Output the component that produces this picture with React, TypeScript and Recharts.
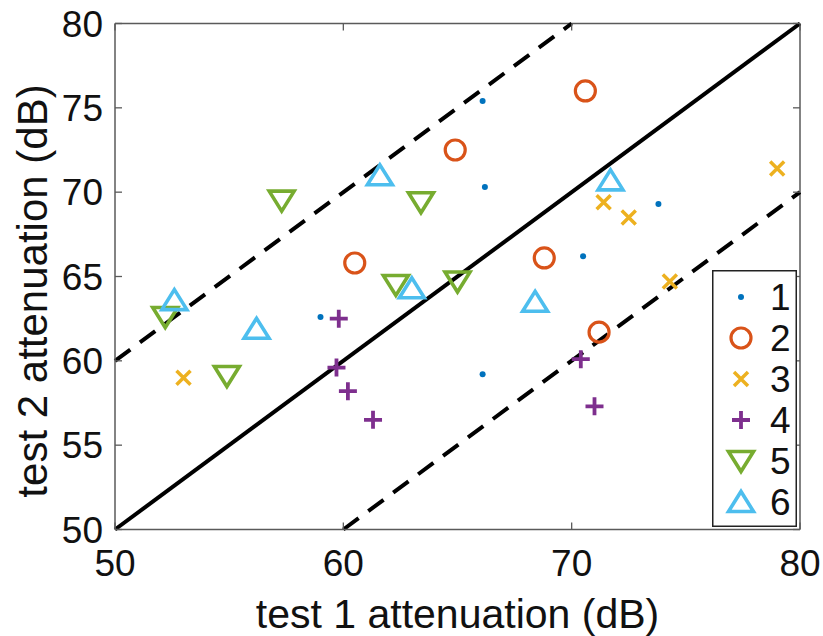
import React from 'react';
import { ScatterChart, Scatter, XAxis, YAxis, ReferenceLine, Legend, Label } from 'recharts';

// tick values
const xTicks = [50, 60, 70, 80];
const yTicks = [50, 55, 60, 65, 70, 75, 80];

// per-subject points (test 1 dB, test 2 dB)
const subject1 = [
  { x: 66.1, y: 75.4 }, { x: 66.2, y: 70.3 }, { x: 73.8, y: 69.3 },
  { x: 70.5, y: 66.2 }, { x: 66.1, y: 59.2 }, { x: 59.0, y: 62.6 },
];
const subject2 = [
  { x: 70.6, y: 76.0 }, { x: 64.9, y: 72.5 }, { x: 60.5, y: 65.8 },
  { x: 68.8, y: 66.1 }, { x: 71.2, y: 61.7 },
];
const subject3 = [
  { x: 79.0, y: 71.4 }, { x: 71.4, y: 69.4 }, { x: 72.5, y: 68.5 },
  { x: 74.3, y: 64.7 }, { x: 53.0, y: 59.0 },
];
const subject4 = [
  { x: 59.8, y: 62.5 }, { x: 59.7, y: 59.6 }, { x: 60.2, y: 58.2 },
  { x: 61.3, y: 56.5 }, { x: 70.4, y: 60.1 }, { x: 71.0, y: 57.3 },
];
const subject5 = [
  { x: 57.3, y: 69.5 }, { x: 63.4, y: 69.4 }, { x: 52.2, y: 62.6 },
  { x: 54.9, y: 59.1 }, { x: 62.3, y: 64.5 }, { x: 65.0, y: 64.7 },
];
const subject6 = [
  { x: 61.6, y: 71.0 }, { x: 71.7, y: 70.7 }, { x: 52.6, y: 63.6 },
  { x: 56.2, y: 61.9 }, { x: 63.0, y: 64.3 }, { x: 68.4, y: 63.5 },
];

// identity line and +/-10 dB bounds
const identityLine = [{ x: 50, y: 50 }, { x: 80, y: 80 }];
const upperBound = [{ x: 50, y: 60 }, { x: 70, y: 80 }];
const lowerBound = [{ x: 60, y: 50 }, { x: 80, y: 70 }];

const FONT = '"Liberation Sans", Arial, Helvetica, sans-serif';
const FRAME = '#5a5a5a';
const PT = 23.5;
const PB = 529.5;
const PL = 115;
const PR = 800;

const C1 = '#0072BD';
const C2 = '#D95319';
const C3 = '#EDB120';
const C4 = '#7E2F8E';
const C5 = '#77AC30';
const C6 = '#4DBEEE';

const DotMark = ({ cx, cy }: any) => <circle cx={cx} cy={cy} r={3} fill={C1} />;
const CircleMark = ({ cx, cy }: any) => (
  <circle cx={cx} cy={cy} r={10} fill="none" stroke={C2} strokeWidth={3.2} />
);
const XMark = ({ cx, cy }: any) => (
  <path d={`M${cx - 7} ${cy - 7}L${cx + 7} ${cy + 7}M${cx - 7} ${cy + 7}L${cx + 7} ${cy - 7}`} stroke={C3} strokeWidth={3.5} />
);
const PlusMark = ({ cx, cy }: any) => (
  <path d={`M${cx - 9} ${cy}L${cx + 9} ${cy}M${cx} ${cy - 9}L${cx} ${cy + 9}`} stroke={C4} strokeWidth={3.8} />
);
const DownMark = ({ cx, cy }: any) => (
  <path d={`M${cx - 12.5} ${cy - 9.5}L${cx + 12.5} ${cy - 9.5}L${cx} ${cy + 10.5}Z`} fill="none" stroke={C5} strokeWidth={3.6} strokeLinejoin="miter" />
);
const UpMark = ({ cx, cy }: any) => (
  <path d={`M${cx - 12.5} ${cy + 9.5}L${cx + 12.5} ${cy + 9.5}L${cx} ${cy - 10.5}Z`} fill="none" stroke={C6} strokeWidth={3.6} strokeLinejoin="miter" />
);

const series = [
  { name: '1', data: subject1, Shape: DotMark },
  { name: '2', data: subject2, Shape: CircleMark },
  { name: '3', data: subject3, Shape: XMark },
  { name: '4', data: subject4, Shape: PlusMark },
  { name: '5', data: subject5, Shape: DownMark },
  { name: '6', data: subject6, Shape: UpMark },
];

const XTick = ({ x, payload }: any) => (
  <g>
    <line x1={x} x2={x} y1={PB} y2={PB - 7} stroke={FRAME} strokeWidth={1.3} />
    <line x1={x} x2={x} y1={PT} y2={PT + 7} stroke={FRAME} strokeWidth={1.3} />
    <text x={x} y={576} textAnchor="middle" fontFamily={FONT} fontSize={37} fill="#111">
      {payload.value}
    </text>
  </g>
);

const YTick = ({ y, payload }: any) => (
  <g>
    <line x1={PL} x2={PL + 7} y1={y} y2={y} stroke={FRAME} strokeWidth={1.3} />
    <line x1={PR} x2={PR - 7} y1={y} y2={y} stroke={FRAME} strokeWidth={1.3} />
    <text x={103} y={y + 13} textAnchor="end" fontFamily={FONT} fontSize={37} fill="#111">
      {payload.value}
    </text>
  </g>
);

const renderLegend = () => (
  <svg width={85} height={257} style={{ display: 'block' }}>
    <rect x={0.75} y={0.75} width={83.5} height={255.5} fill="#fff" stroke="#222" strokeWidth={1.5} />
    {series.map((s, i) => {
      const cy = 27 + i * 41;
      const Shape = s.Shape;
      return (
        <g key={s.name}>
          <Shape cx={29} cy={cy} />
          <text x={58} y={cy + 13} fontFamily={FONT} fontSize={37} fill="#111">
            {s.name}
          </text>
        </g>
      );
    })}
  </svg>
);

export default function App() {
  return (
    <div style={{ position: 'absolute', left: 0, top: 0, background: '#fff' }}>
      <ScatterChart width={823} height={636} margin={{ top: PT, right: 823 - PR, bottom: 0, left: 0 }}>
        <XAxis
          type="number"
          dataKey="x"
          domain={[50, 80]}
          ticks={xTicks}
          allowDataOverflow
          height={636 - PB}
          tickLine={false}
          axisLine={{ stroke: FRAME, strokeWidth: 1.5 }}
          tick={<XTick />}
          interval={0}
        >
          <Label
            value="test 1 attenuation (dB)"
            position="insideBottom"
            offset={8}
            style={{ fontFamily: FONT, fontSize: 41, fill: '#111' }}
          />
        </XAxis>
        <YAxis
          type="number"
          dataKey="y"
          domain={[50, 80]}
          ticks={yTicks}
          allowDataOverflow
          width={PL}
          tickLine={false}
          axisLine={{ stroke: FRAME, strokeWidth: 1.5 }}
          tick={<YTick />}
          interval={0}
        />
        <ReferenceLine y={80} stroke={FRAME} strokeWidth={1.5} />
        <ReferenceLine x={80} stroke={FRAME} strokeWidth={1.5} />
        <ReferenceLine segment={identityLine} stroke="#000" strokeWidth={4} />
        <ReferenceLine segment={upperBound} stroke="#000" strokeWidth={4} strokeDasharray="19 12" />
        <ReferenceLine segment={lowerBound} stroke="#000" strokeWidth={4} strokeDasharray="19 12" />
        {series.map((s) => (
          <Scatter
            key={s.name}
            name={s.name}
            data={s.data}
            shape={(p: any) => <s.Shape cx={p.cx} cy={p.cy} />}
            isAnimationActive={false}
          />
        ))}
        <Legend
          layout="horizontal"
          verticalAlign="middle"
          align="center"
          content={renderLegend}
          wrapperStyle={{ position: 'absolute', left: 712, top: 270, width: 85, height: 257 }}
        />
      </ScatterChart>
      <svg width={60} height={636} style={{ position: 'absolute', left: 0, top: 0 }}>
        <text
          x={0}
          y={0}
          transform="translate(47 291) rotate(-90)"
          textAnchor="middle"
          fontFamily={FONT}
          fontSize={42}
          fill="#111"
        >
          test 2 attenuation (dB)
        </text>
      </svg>
    </div>
  );
}
